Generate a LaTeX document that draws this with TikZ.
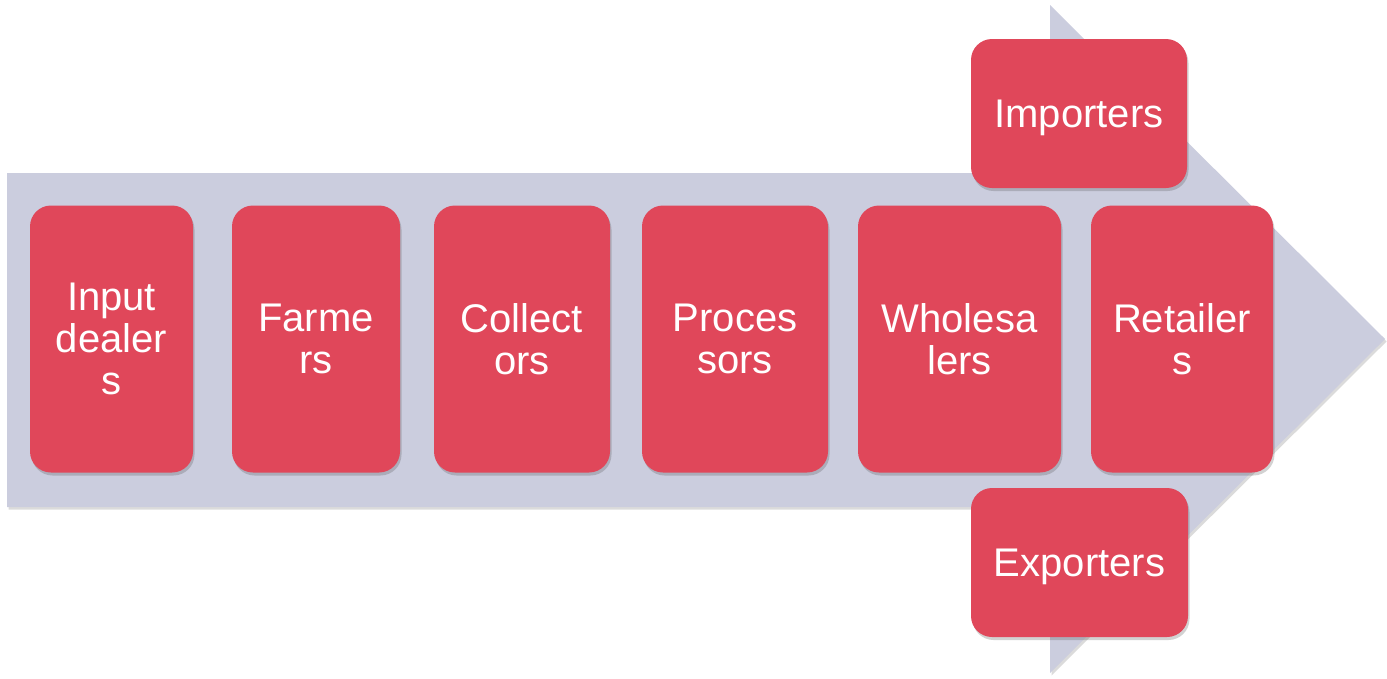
\documentclass[tikz,border=0pt]{standalone}
\usepackage{fontspec}
\setmainfont{Liberation Sans}
\usetikzlibrary{shadows}
\definecolor{chainbg}{RGB}{203,205,222}
\definecolor{stagered}{RGB}{224,71,90}
\begin{document}
\begin{tikzpicture}[x=1pt,y=-1pt,
  stagebox/.style={fill=stagered, draw=none, rounded corners=21pt,
    text=white, align=center, inner sep=0pt,
    font=\fontsize{40}{42}\selectfont,
    drop shadow={shadow xshift=1.5pt, shadow yshift=-3pt, opacity=0.25, fill=black!70}},
  chainarrow/.style={fill=chainbg, draw=none,
    drop shadow={shadow xshift=1.5pt, shadow yshift=-2.5pt, opacity=0.2, fill=black!70}}]
  \useasboundingbox (0,0) rectangle (1387,678);
  % the value-chain arrow behind the stages
  \path[chainarrow] (7,173) -- (1050,173) -- (1050,5) -- (1385,339)
    -- (1050,673) -- (1050,507) -- (7,507) -- cycle;
  % stages along the chain
  \node[stagebox, minimum width=163, minimum height=267] (inp)   at (111.5,339) {Input\\dealer\\s};
  \node[stagebox, minimum width=168, minimum height=267] (farm)  at (316,339)   {Farme\\rs};
  \node[stagebox, minimum width=176, minimum height=267] (coll)  at (522,339)   {Collect\\ors};
  \node[stagebox, minimum width=186, minimum height=267] (proc)  at (735,339)   {Proces\\sors};
  \node[stagebox, minimum width=203, minimum height=267] (whole) at (959.5,339) {Wholesa\\lers};
  \node[stagebox, minimum width=182, minimum height=267] (ret)   at (1182,339)  {Retailer\\s};
  % trade links above and below
  \node[stagebox, text depth=0pt, minimum width=216, minimum height=149] (imp) at (1079,113.5) {Importers};
  \node[stagebox, text depth=0pt, minimum width=217, minimum height=149] (exp) at (1079.5,562.5) {Exporters};
\end{tikzpicture}
\end{document}
